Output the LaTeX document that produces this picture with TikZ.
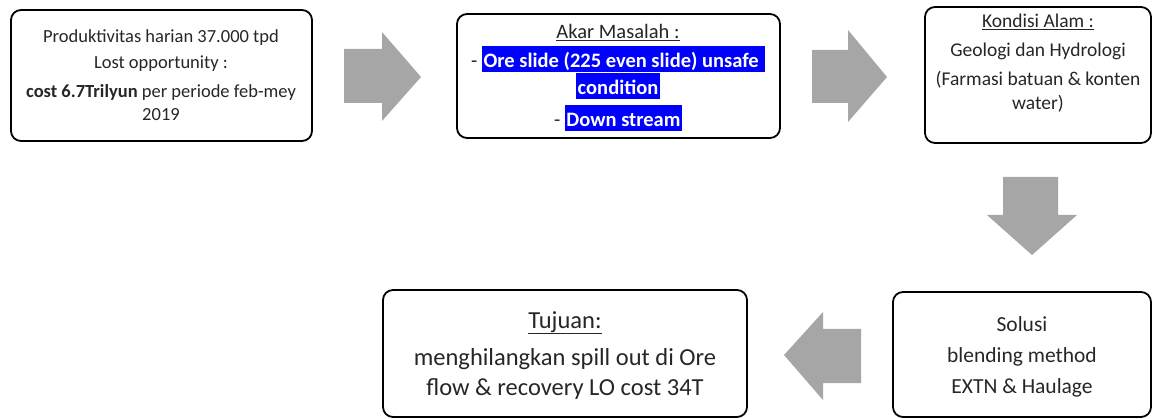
\documentclass[tikz,border=0pt]{standalone}
\usepackage{fontspec}
\setmainfont{Carlito}
\usepackage{xcolor}
\definecolor{arrowgray}{HTML}{A6A6A6}
\definecolor{hlblue}{HTML}{0000FF}
\newcommand{\hl}[1]{{\setlength{\fboxsep}{0pt}\colorbox{hlblue}{\rule[-4pt]{0pt}{26pt}\hspace{1.5pt}\textcolor{white}{\textbf{#1}}\hspace{1.5pt}}}}
\tikzset{
  box/.style={draw=black, line width=1.8pt, rounded corners=10pt},
  blockarrow/.style={fill=arrowgray, draw=none},
  txt/.style={align=center, inner sep=0pt, text=black!85, anchor=base}
}
\begin{document}
\begin{tikzpicture}[x=1pt,y=-1pt]
\useasboundingbox (0,0) rectangle (1153,419);
% boxes
\draw[box] (11,10) rectangle (312,141);
\draw[box] (457,14) rectangle (780,138);
\draw[box] (925,7) rectangle (1151,143);
\draw[box] (383,290) rectangle (747,417);
\draw[box] (893,292) rectangle (1151,417);
% texts (anchored at the baseline of the last line)
\node[txt, font={\fontsize{18.5}{23}\selectfont}] (t1) at (161,121) {%
  Produktivitas harian 37.000 tpd\\[3pt]
  Lost opportunity :\\[6pt]
  \textbf{cost 6.7Trilyun} per periode feb-mey\\2019};
\node[txt, font={\fontsize{20.5}{25}\selectfont}] (t2) at (618,127) {%
  \underline{Akar Masalah :}\\[4pt]
  - \hl{Ore slide (225 even slide) unsafe\ }\\
  \hl{condition}\\[5pt]
  - \hl{Down stream}};
\node[txt, font={\fontsize{19.5}{24}\selectfont}] (t3) at (1038,110) {%
  \underline{Kondisi Alam :}\\[5pt]
  Geologi dan Hydrologi\\[5pt]
  (Farmasi batuan \& konten\\water)};
\node[txt, font={\fontsize{24.5}{30}\selectfont}] (t4) at (565,395) {%
  \underline{Tujuan:}\\[7pt]
  menghilangkan spill out di Ore\\
  flow \& recovery LO cost 34T};
\node[txt, font={\fontsize{21.5}{26}\selectfont}] (t5) at (1022,393) {%
  Solusi\\[5pt]
  blending method\\[5pt]
  EXTN \& Haulage};
% block arrows
\fill[blockarrow] (344,49) -- (382,49) -- (382,32) -- (421,77) -- (382,121) -- (382,103) -- (344,103) -- cycle;
\fill[blockarrow] (812,50) -- (848,50) -- (848,30) -- (887,77) -- (848,122) -- (848,103) -- (812,103) -- cycle;
\fill[blockarrow] (1003,177) -- (1058,177) -- (1058,215) -- (1077,215) -- (1032,255) -- (987,215) -- (1003,215) -- cycle;
\fill[blockarrow] (861,329) -- (823,329) -- (823,312) -- (784,355) -- (823,400) -- (823,383) -- (861,383) -- cycle;
\end{tikzpicture}
\end{document}
